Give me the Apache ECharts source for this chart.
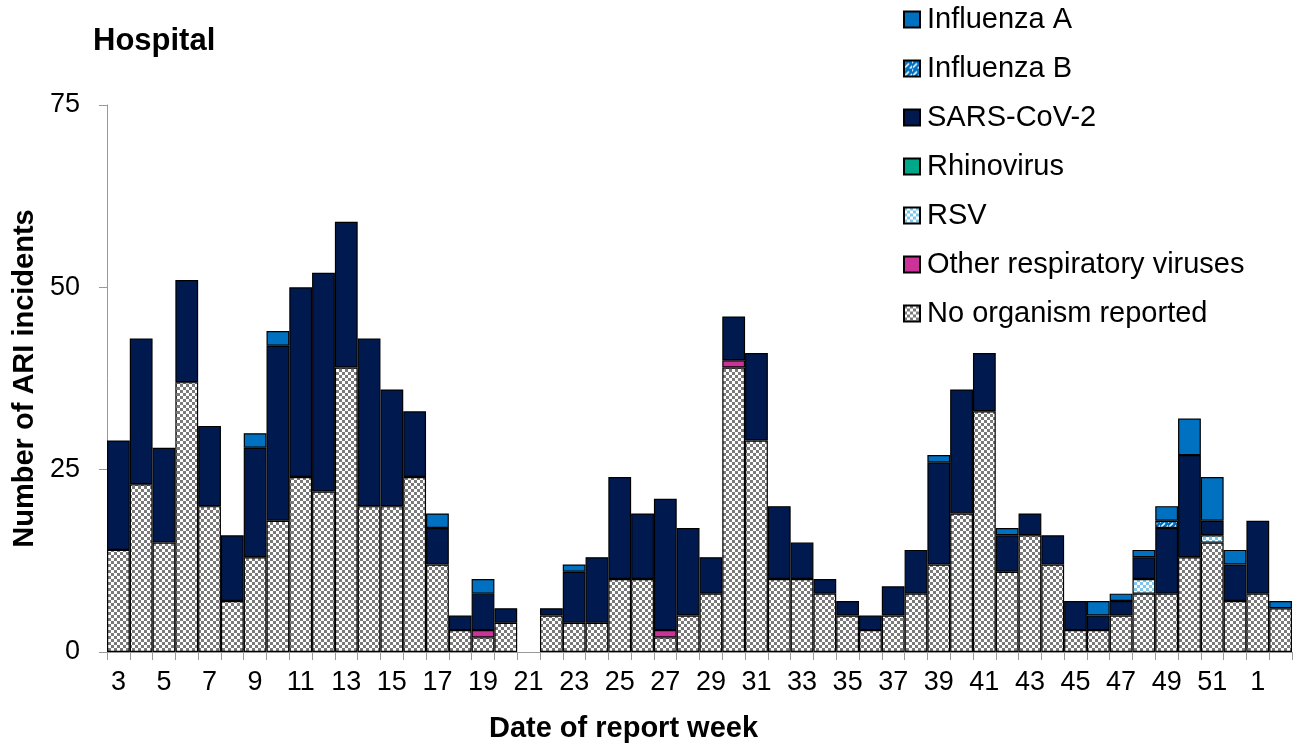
<!DOCTYPE html>
<html>
<head>
<meta charset="utf-8">
<script src="https://cdn.jsdelivr.net/npm/echarts@6/dist/echarts.min.js"></script>
<style>html,body{margin:0;padding:0;background:#fff;}#c{width:1300px;height:749px;}</style>
</head>
<body>
<div id="c"></div>
<script>
const weeks = ['3','4','5','6','7','8','9','10','11','12','13','14','15','16','17','18','19','20','21','22','23','24','25','26','27','28','29','30','31','32','33','34','35','36','37','38','39','40','41','42','43','44','45','46','47','48','49','50','51','52','1','2'];
const noOrganism = [14,23,15,37,20,7,13,18,24,22, 39,20,20,24,12,3,2,4,0,5, 4,4,10,10,2,5,8,39,29,10, 10,8,5,3,5,8,12,19,33,11, 16,12,3,3,5,8,8,13,15,7, 8,6];
const otherResp = [0,0,0,0,0,0,0,0,0,0, 0,0,0,0,0,0,1,0,0,0, 0,0,0,0,1,0,0,1,0,0, 0,0,0,0,0,0,0,0,0,0, 0,0,0,0,0,0,0,0,0,0, 0,0];
const rsv = [0,0,0,0,0,0,0,0,0,0, 0,0,0,0,0,0,0,0,0,0, 0,0,0,0,0,0,0,0,0,0, 0,0,0,0,0,0,0,0,0,0, 0,0,0,0,0,2,0,0,1,0, 0,0];
const rhinovirus = [0,0,0,0,0,0,0,0,0,0, 0,0,0,0,0,0,0,0,0,0, 0,0,0,0,0,0,0,0,0,0, 0,0,0,0,0,0,0,0,0,0, 0,0,0,0,0,0,0,0,0,0, 0,0];
const sarsCov2 = [15,20,13,14,11,9,15,24,26,30, 20,23,16,9,5,2,5,2,0,1, 7,9,14,9,18,12,5,6,12,10, 5,2,2,2,4,6,14,17,8,5, 3,4,4,2,2,3,9,14,2,5, 10,0];
const influenzaB = [0,0,0,0,0,0,0,0,0,0, 0,0,0,0,0,0,0,0,0,0, 0,0,0,0,0,0,0,0,0,0, 0,0,0,0,0,0,0,0,0,0, 0,0,0,0,0,0,1,0,0,0, 0,0];
const influenzaA = [0,0,0,0,0,0,2,2,0,0, 0,0,0,0,2,0,2,0,0,0, 1,0,0,0,0,0,0,0,0,0, 0,0,0,0,0,0,1,0,0,1, 0,0,0,2,1,1,2,5,6,2, 0,1];
const yTicks = [0, 25, 50, 75];

function checker(c1, c2, s) {
  const cv = document.createElement('canvas');
  cv.width = 2 * s; cv.height = 2 * s;
  const g = cv.getContext('2d');
  g.fillStyle = c2; g.fillRect(0, 0, 2 * s, 2 * s);
  g.fillStyle = c1; g.fillRect(0, 0, s, s); g.fillRect(s, s, s, s);
  return { image: cv, repeat: 'repeat' };
}
function stripes() {
  const cv = document.createElement('canvas');
  cv.width = 8; cv.height = 8;
  const g = cv.getContext('2d');
  g.fillStyle = '#0070c0'; g.fillRect(0, 0, 8, 8);
  g.strokeStyle = '#ffffff'; g.lineWidth = 1.6;
  g.beginPath(); g.moveTo(1, 7); g.lineTo(5, 3); g.moveTo(5, 9); g.lineTo(9, 5); g.moveTo(-3, 5); g.lineTo(1, 1); g.stroke();
  return { image: cv, repeat: 'repeat' };
}
const FONT = '"Liberation Sans", Arial, sans-serif';
const clean = a => a.map(v => v === 0 ? '-' : v);
function bar(name, data, color) {
  return { name, type: 'bar', stack: 'all', data: clean(data), barCategoryGap: 0,
    itemStyle: { color, borderColor: '#000', borderWidth: 1.2 }, emphasis: { disabled: true } };
}
const chart = echarts.init(document.getElementById('c'));
chart.setOption({
  animation: false,
  backgroundColor: '#fff',
  title: { text: 'Hospital', left: 93, top: 26, padding: 0,
    textStyle: { fontFamily: FONT, fontSize: 31, fontWeight: 'bold', color: '#000' } },
  legend: {
    orient: 'vertical', left: 903, top: 5, padding: 0, itemGap: 20, itemWidth: 16, itemHeight: 16,
    icon: 'rect',
    data: ['Influenza A', 'Influenza B', 'SARS-CoV-2', 'Rhinovirus', 'RSV', 'Other respiratory viruses', 'No organism reported'],
    textStyle: { fontFamily: FONT, fontSize: 29, color: '#000', padding: [0, 0, 0, 2] }
  },
  grid: { left: 107, right: 8, top: 105, bottom: 97, containLabel: false },
  xAxis: {
    type: 'category', data: weeks, boundaryGap: true,
    name: 'Date of report week', nameLocation: 'middle', nameGap: 62,
    nameTextStyle: { fontFamily: FONT, fontSize: 29, fontWeight: 'bold', color: '#000', padding: [0, 152, 0, 0] },
    axisLine: { lineStyle: { color: '#999', width: 1 } },
    axisTick: { show: true, interval: 0, length: 8, lineStyle: { color: '#999' } },
    axisLabel: { interval: 1, margin: 17, fontFamily: FONT, fontSize: 27, color: '#000' }
  },
  yAxis: {
    type: 'value', min: yTicks[0], max: yTicks[yTicks.length - 1], interval: 25,
    name: 'Number of ARI incidents', nameLocation: 'middle', nameGap: 67,
    nameTextStyle: { fontFamily: FONT, fontSize: 29, fontWeight: 'bold', color: '#000' },
    axisLine: { show: true, lineStyle: { color: '#999', width: 1 } },
    axisTick: { show: true, length: 8, lineStyle: { color: '#999' } },
    splitLine: { show: false },
    axisLabel: { margin: 27, fontFamily: FONT, fontSize: 27, color: '#000' }
  },
  series: [
    bar('No organism reported', noOrganism, checker('#7a7a7a', '#ffffff', 3)),
    bar('Other respiratory viruses', otherResp, '#cc3399'),
    bar('RSV', rsv, checker('#7cc8ec', '#ffffff', 3)),
    bar('Rhinovirus', rhinovirus, '#00a88a'),
    bar('SARS-CoV-2', sarsCov2, '#001a4f'),
    bar('Influenza B', influenzaB, stripes()),
    bar('Influenza A', influenzaA, '#0070c0')
  ]
});
</script>
</body>
</html>
